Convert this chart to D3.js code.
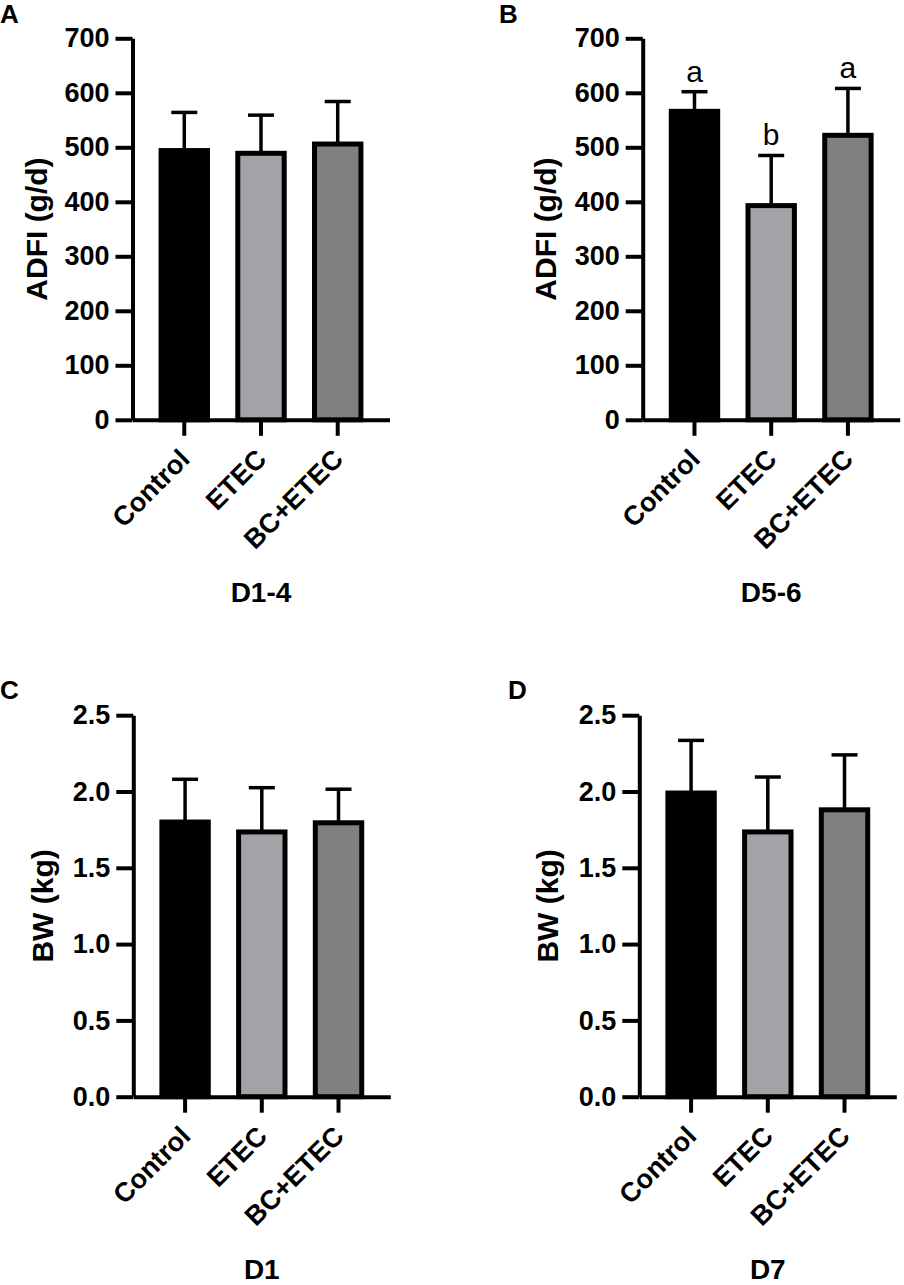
<!DOCTYPE html>
<html>
<head>
<meta charset="utf-8">
<script src="https://cdn.jsdelivr.net/npm/d3@7"></script>
<style>
  body { margin: 0; background: #fff; }
  svg text { font-family: "Liberation Sans", Arial, Helvetica, sans-serif; }
</style>
</head>
<body>
<div id="chart"></div>
<script>
// groups and fills
const categories = ["Control", "ETEC", "BC+ETEC"];
const barColors = ["#000000", "#a3a3a7", "#808080"];

// ADFI, days 1-4
const adfiD14Mean = [494, 489, 506];
const adfiD14Sd = [70, 70, 78];
// ADFI, days 5-6
const adfiD56Mean = [566, 393, 522];
const adfiD56Sd = [36, 92, 86];
const adfiD56Letters = ["a", "b", "a"];
// body weight, day 1
const bwD1Mean = [1.80, 1.735, 1.795];
const bwD1Sd = [0.28, 0.29, 0.22];
// body weight, day 7
const bwD7Mean = [1.99, 1.735, 1.88];
const bwD7Sd = [0.345, 0.36, 0.36];

const adfiTicks = [0, 100, 200, 300, 400, 500, 600, 700];
const bwTicks = [0, 0.5, 1.0, 1.5, 2.0, 2.5];

const width = 904, height = 1285;
const plotW = 257, plotH = 381.5;

const panels = [
  { tag: "A", left: 132.5, top: 38.3, tagX: 0, tagY: 23, mean: adfiD14Mean, sd: adfiD14Sd,
    ticks: adfiTicks, fmt: d3.format("d"), ylabel: "ADFI (g/d)", labelOff: -86, title: "D1-4" },
  { tag: "B", left: 642.7, top: 38.3, tagX: 499, tagY: 23, mean: adfiD56Mean, sd: adfiD56Sd,
    ticks: adfiTicks, fmt: d3.format("d"), ylabel: "ADFI (g/d)", labelOff: -87, title: "D5-6",
    letters: adfiD56Letters },
  { tag: "C", left: 133.3, top: 715.2, tagX: 0, tagY: 699, mean: bwD1Mean, sd: bwD1Sd,
    ticks: bwTicks, fmt: d3.format(".1f"), ylabel: "BW (kg)", labelOff: -80, title: "D1" },
  { tag: "D", left: 639.3, top: 715.2, tagX: 508, tagY: 699, mean: bwD7Mean, sd: bwD7Sd,
    ticks: bwTicks, fmt: d3.format(".1f"), ylabel: "BW (kg)", labelOff: -81, title: "D7" }
];

const svg = d3.select("#chart")
  .append("svg")
  .attr("width", width)
  .attr("height", height)
  .attr("viewBox", [0, 0, width, height]);

svg.append("rect").attr("width", width).attr("height", height).attr("fill", "#fff");

panels.forEach(p => {
  // panel letter
  svg.append("text")
    .attr("x", p.tagX)
    .attr("y", p.tagY)
    .attr("font-size", 26)
    .attr("font-weight", "bold")
    .text(p.tag);

  const g = svg.append("g").attr("transform", `translate(${p.left},${p.top})`);

  const x = d3.scaleBand()
    .domain(categories)
    .range([0, plotW])
    .paddingInner(0.33)
    .paddingOuter(0.34);

  const y = d3.scaleLinear()
    .domain([0, d3.max(p.ticks)])
    .range([plotH, 0]);

  const rows = categories.map((c, i) => ({ cat: c, mean: p.mean[i], sd: p.sd[i], color: barColors[i],
    letter: p.letters ? p.letters[i] : null }));

  // bars
  g.append("g")
    .selectAll("rect")
    .data(rows)
    .join("rect")
      .attr("x", d => x(d.cat) + 2.5)
      .attr("y", d => y(d.mean))
      .attr("width", x.bandwidth() - 5)
      .attr("height", d => y(0) - y(d.mean))
      .attr("fill", d => d.color)
      .attr("stroke", "#000")
      .attr("stroke-width", 5);

  // upper error bars
  const err = g.append("g").attr("stroke", "#000").attr("stroke-width", 3.5);
  err.selectAll(".stem")
    .data(rows)
    .join("line")
      .attr("class", "stem")
      .attr("x1", d => x(d.cat) + x.bandwidth() / 2)
      .attr("x2", d => x(d.cat) + x.bandwidth() / 2)
      .attr("y1", d => y(d.mean))
      .attr("y2", d => y(d.mean + d.sd));
  err.selectAll(".cap")
    .data(rows)
    .join("line")
      .attr("class", "cap")
      .attr("x1", d => x(d.cat) + x.bandwidth() / 2 - 13)
      .attr("x2", d => x(d.cat) + x.bandwidth() / 2 + 13)
      .attr("y1", d => y(d.mean + d.sd))
      .attr("y2", d => y(d.mean + d.sd));

  // significance letters
  g.append("g")
    .selectAll("text")
    .data(rows.filter(d => d.letter))
    .join("text")
      .attr("x", d => x(d.cat) + x.bandwidth() / 2)
      .attr("y", d => y(d.mean + d.sd) - 10)
      .attr("text-anchor", "middle")
      .attr("font-size", 30)
      .text(d => d.letter);

  // y axis
  g.append("g")
    .call(d3.axisLeft(y).tickValues(p.ticks).tickFormat(p.fmt).tickSize(17).tickSizeOuter(0).tickPadding(6))
    .call(ax => ax.select(".domain").attr("stroke-width", 4))
    .call(ax => ax.selectAll(".tick line").attr("stroke-width", 4))
    .call(ax => ax.selectAll(".tick text")
      .attr("font-size", 27).attr("font-weight", "bold").attr("fill", "#000")
      .attr("font-family", "Liberation Sans, Arial, sans-serif"));

  // x axis
  g.append("g")
    .attr("transform", `translate(0,${plotH})`)
    .call(d3.axisBottom(x).tickSize(16).tickSizeOuter(0).tickFormat(""))
    .call(ax => ax.select(".domain").attr("stroke-width", 4))
    .call(ax => ax.selectAll(".tick line").attr("stroke-width", 4));

  // rotated category labels
  g.append("g")
    .selectAll("text")
    .data(categories)
    .join("text")
      .attr("transform", c => `translate(${x(c) + x.bandwidth() / 2 + 7},${plotH + 41}) rotate(-45)`)
      .attr("text-anchor", "end")
      .attr("font-size", 27)
      .attr("font-weight", "bold")
      .text(c => c);

  // y axis title
  g.append("text")
    .attr("transform", `translate(${p.labelOff},${plotH / 2}) rotate(-90)`)
    .attr("text-anchor", "middle")
    .attr("font-size", 30)
    .attr("font-weight", "bold")
    .text(p.ylabel);

  // panel title below the axis
  g.append("text")
    .attr("x", x(categories[1]) + x.bandwidth() / 2)
    .attr("y", plotH + 182)
    .attr("text-anchor", "middle")
    .attr("font-size", 28)
    .attr("font-weight", "bold")
    .text(p.title);
});
</script>
</body>
</html>
